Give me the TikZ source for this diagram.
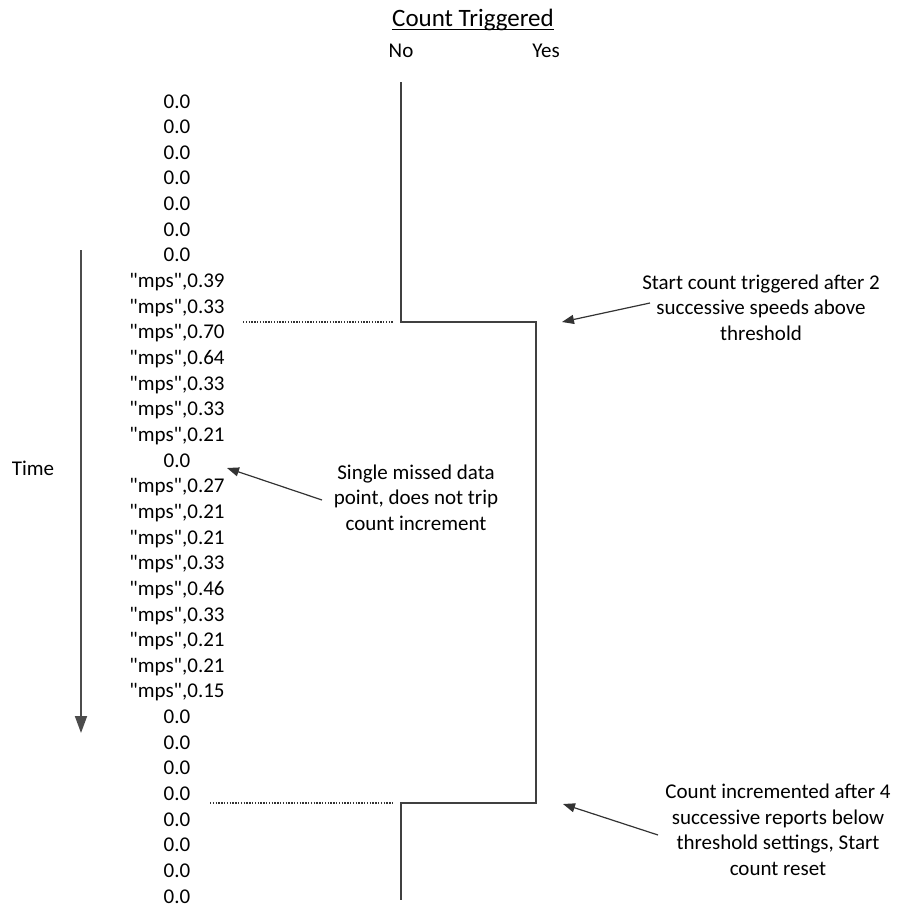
\documentclass[tikz,border=0pt]{standalone}
\usepackage{fontspec}
\setmainfont{Carlito}
\newfontfamily\plaincarlito{Carlito}
\usetikzlibrary{arrows.meta}
\begin{document}
\begin{tikzpicture}[x=1pt,y=-1pt,
  txt/.style={inner sep=0pt,font=\fontsize{21}{25.5}\selectfont},
  datum/.style={txt,anchor=base},
  value/.style={inner sep=0pt,anchor=base,font=\fontsize{21}{25.5}\plaincarlito\selectfont},
  note/.style={txt,align=center},
  stepline/.style={draw=black!75,line width=1.6pt},
  guide/.style={draw=black!80,dash pattern=on 1.4pt off 1.4pt,line width=1.2pt},
  callout/.style={draw=black!80,line width=1.2pt,-{Triangle[length=12pt,width=9pt]}},
  timearrow/.style={draw=black!70,line width=1.8pt,-{Triangle[length=17pt,width=12pt]}}]
\useasboundingbox (0,0) rectangle (898,907);
% title and headings
\node[txt,anchor=base,font=\fontsize{25}{29}\selectfont] (title) at (473,27) {Count Triggered};
\draw[line width=1pt] ([yshift=-3pt]title.base west) -- ([yshift=-3pt]title.base east);
\node[datum] (no) at (401,58) {No};
\node[datum] (yes) at (546,58) {Yes};
% data column
\foreach \v [count=\i from 0] in {0.0,0.0,0.0,0.0,0.0,0.0,0.0,
  "mps"{,}0.39,"mps"{,}0.33,"mps"{,}0.70,"mps"{,}0.64,"mps"{,}0.33,"mps"{,}0.33,"mps"{,}0.21,
  0.0,
  "mps"{,}0.27,"mps"{,}0.21,"mps"{,}0.21,"mps"{,}0.33,"mps"{,}0.46,"mps"{,}0.33,"mps"{,}0.21,"mps"{,}0.21,"mps"{,}0.15,
  0.0,0.0,0.0,0.0,0.0,0.0,0.0,0.0}
  {\node[value] (d\i) at (177,108+25.65*\i) {\v};}
% time axis
\node[datum] (time) at (33,475) {Time};
\coordinate (t0) at (81,250);
\coordinate (t1) at (81,733);
\draw[timearrow] (t0) -- (t1);
% step line
\coordinate (s0) at (401,82);
\coordinate (s1) at (401,322);
\coordinate (s2) at (536,322);
\coordinate (s3) at (536,803);
\coordinate (s4) at (401,803);
\coordinate (s5) at (401,900);
\draw[stepline] (s0) -- (s1) -- (s2) -- (s3) -- (s4) -- (s5);
% dotted guides
\coordinate (g1) at (243,322);
\coordinate (g1e) at (393,322);
\coordinate (g2) at (210,803);
\coordinate (g2e) at (393,803);
\draw[guide] (g1) -- (g1e);
\draw[guide] (g2) -- (g2e);
% notes
\node[note] (n1) at (761,307.5) {Start count triggered after 2\\successive speeds above\\threshold};
\node[note] (n2) at (416,497.5) {Single missed data\\point, does not trip\\count increment};
\node[note] (n3) at (778,830) {Count incremented after 4\\successive reports below\\threshold settings, Start\\count reset};
\coordinate (a1) at (650,303);
\coordinate (a1t) at (562,322);
\coordinate (a2) at (322,500);
\coordinate (a2t) at (227,468);
\coordinate (a3) at (658,835);
\coordinate (a3t) at (563,804);
\draw[callout] (a1) -- (a1t);
\draw[callout] (a2) -- (a2t);
\draw[callout] (a3) -- (a3t);
\end{tikzpicture}
\end{document}
